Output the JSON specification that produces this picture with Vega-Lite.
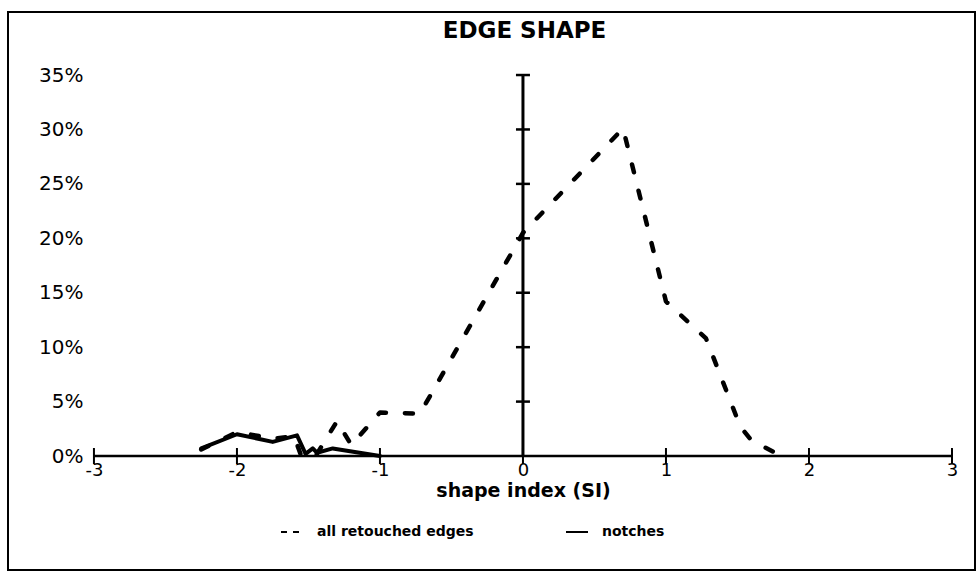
{
  "$schema": "https://vega.github.io/schema/vega-lite/v6.json",
  "width": 967,
  "height": 558,
  "autosize": {"type": "none"},
  "padding": {"left": 8, "top": 12, "right": 5, "bottom": 7},
  "background": "white",
  "config": {
    "view": {"stroke": "black", "strokeWidth": 2},
    "font": "DejaVu Sans",
    "legend": {
      "title": null,
      "orient": "none",
      "direction": "horizontal",
      "padding": 0,
      "symbolType": "stroke",
      "symbolSize": 484,
      "symbolStrokeWidth": 2,
      "labelFont": "DejaVu Sans",
      "labelFontSize": 14,
      "labelFontWeight": "bold",
      "labelColor": "black",
      "labelOffset": 13
    }
  },
  "title": {
    "text": "EDGE SHAPE",
    "fontSize": 23,
    "fontWeight": "bold",
    "font": "DejaVu Sans",
    "color": "black",
    "anchor": "middle",
    "frame": "group",
    "dx": 33,
    "dy": 23,
    "offset": -8,
    "baseline": "top"
  },
  "datasets": {
    "retouched": [
      {"series": "all retouched edges", "x": -2.25, "y": 0.006},
      {"series": "all retouched edges", "x": -2.0, "y": 0.022},
      {"series": "all retouched edges", "x": -1.75, "y": 0.016},
      {"series": "all retouched edges", "x": -1.6, "y": 0.018},
      {"series": "all retouched edges", "x": -1.55, "y": 0.0},
      {"series": "all retouched edges", "x": -1.45, "y": 0.0},
      {"series": "all retouched edges", "x": -1.3, "y": 0.032},
      {"series": "all retouched edges", "x": -1.2, "y": 0.01},
      {"series": "all retouched edges", "x": -1.0, "y": 0.04},
      {"series": "all retouched edges", "x": -0.72, "y": 0.039},
      {"series": "all retouched edges", "x": 0.0, "y": 0.205},
      {"series": "all retouched edges", "x": 0.7, "y": 0.301},
      {"series": "all retouched edges", "x": 1.0, "y": 0.142},
      {"series": "all retouched edges", "x": 1.28, "y": 0.108},
      {"series": "all retouched edges", "x": 1.52, "y": 0.027},
      {"series": "all retouched edges", "x": 1.6, "y": 0.014},
      {"series": "all retouched edges", "x": 1.75, "y": 0.004},
      {"series": "all retouched edges", "x": 1.85, "y": 0.0}
    ],
    "notches": [
      {"series": "notches", "x": -2.25, "y": 0.007},
      {"series": "notches", "x": -2.0, "y": 0.02},
      {"series": "notches", "x": -1.75, "y": 0.013},
      {"series": "notches", "x": -1.58, "y": 0.019},
      {"series": "notches", "x": -1.52, "y": 0.002},
      {"series": "notches", "x": -1.47, "y": 0.007},
      {"series": "notches", "x": -1.44, "y": 0.003},
      {"series": "notches", "x": -1.33, "y": 0.007},
      {"series": "notches", "x": -1.0, "y": 0.0}
    ],
    "xticks": [
      {"x": -3, "y": 0}, {"x": -2, "y": 0}, {"x": -1, "y": 0}, {"x": 0, "y": 0},
      {"x": 1, "y": 0}, {"x": 2, "y": 0}, {"x": 3, "y": 0}
    ],
    "yticks": [
      {"x": 0, "y": 0.05}, {"x": 0, "y": 0.1}, {"x": 0, "y": 0.15}, {"x": 0, "y": 0.2},
      {"x": 0, "y": 0.25}, {"x": 0, "y": 0.3}, {"x": 0, "y": 0.35}
    ],
    "xline": [{"x": -3, "x2": 3, "y": 0}],
    "yline": [{"x": 0, "y": 0, "y2": 0.35}]
  },
  "encoding": {
    "x": {
      "field": "x",
      "type": "quantitative",
      "scale": {"domain": [-3.601, 3.161], "nice": false, "zero": false},
      "axis": {
        "orient": "bottom",
        "offset": -109,
        "values": [-3, -2, -1, 0, 1, 2, 3],
        "labelExpr": "toString(datum.value)",
        "domain": false,
        "ticks": false,
        "tickSize": 0,
        "grid": false,
        "labelPadding": 0,
        "labelFontSize": 18,
        "labelColor": "black",
        "labelFont": "DejaVu Sans",
        "title": "shape index (SI)",
        "titleFont": "DejaVu Sans",
        "titleFontSize": 19,
        "titleFontWeight": "bold",
        "titleColor": "black",
        "titleX": 515,
        "titleY": 20,
        "titleBaseline": "top",
        "titleAnchor": "start",
        "titleAlign": "center"
      }
    },
    "y": {
      "field": "y",
      "type": "quantitative",
      "scale": {"domain": [-0.1047, 0.4079], "nice": false, "zero": false},
      "axis": {
        "orient": "left",
        "offset": -75,
        "values": [0, 0.05, 0.1, 0.15, 0.2, 0.25, 0.3, 0.35],
        "format": ".0%",
        "domain": false,
        "ticks": false,
        "tickSize": 0,
        "grid": false,
        "labelPadding": 0,
        "labelFontSize": 20,
        "labelColor": "black",
        "labelFont": "DejaVu Sans",
        "title": null
      }
    }
  },
  "layer": [
    {
      "data": {"name": "xline"},
      "mark": {"type": "rule", "color": "black", "strokeWidth": 2.5},
      "encoding": {"x2": {"field": "x2"}}
    },
    {
      "data": {"name": "yline"},
      "mark": {"type": "rule", "color": "black", "strokeWidth": 3},
      "encoding": {"y2": {"field": "y2"}}
    },
    {
      "data": {"name": "xticks"},
      "mark": {"type": "tick", "orient": "vertical", "color": "black", "size": 16, "thickness": 2, "opacity": 1},
      "encoding": {}
    },
    {
      "data": {"name": "yticks"},
      "mark": {"type": "tick", "orient": "horizontal", "color": "black", "size": 14, "thickness": 2.5, "opacity": 1},
      "encoding": {}
    },
    {
      "data": {"name": "retouched"},
      "mark": {"type": "line", "strokeWidth": 4.5, "strokeCap": "round", "strokeJoin": "round", "strokeDash": [8, 19]},
      "encoding": {
        "stroke": {
          "field": "series",
          "type": "nominal",
          "scale": {"domain": ["all retouched edges"], "range": ["black"]},
          "legend": {
            "legendX": 272,
            "legendY": 508,
            "symbolDash": [6, 6]
          }
        }
      }
    },
    {
      "data": {"name": "notches"},
      "mark": {"type": "line", "strokeWidth": 4, "strokeCap": "round", "strokeJoin": "round"},
      "encoding": {
        "color": {
          "field": "series",
          "type": "nominal",
          "scale": {"domain": ["notches"], "range": ["black"]},
          "legend": {
            "legendX": 557,
            "legendY": 508
          }
        }
      }
    }
  ]
}
